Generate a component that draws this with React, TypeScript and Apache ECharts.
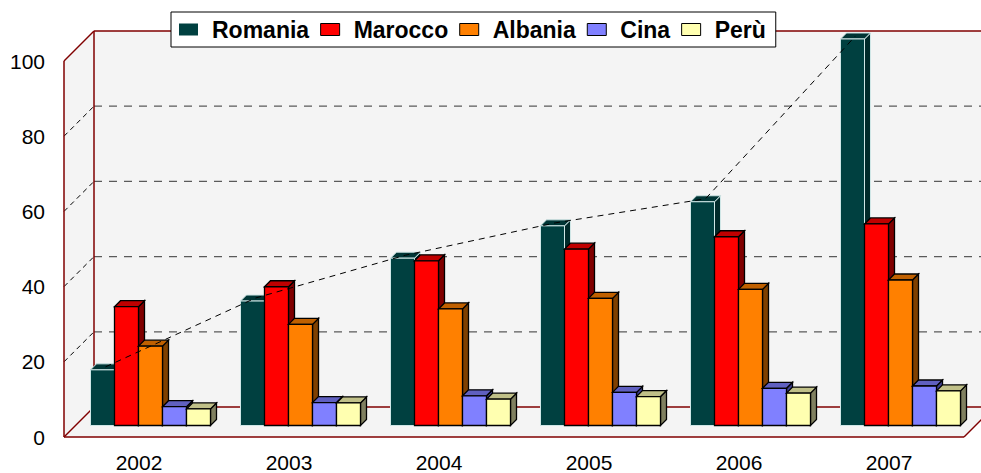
import React, { useEffect, useRef } from "react";
import * as echarts from "echarts";

const years = ["2002", "2003", "2004", "2005", "2006", "2007"];
const romania = [14.8, 33.1, 44.5, 53.1, 59.5, 102.8];
const marocco = [31.6, 36.9, 43.8, 46.9, 50.2, 53.6];
const albania = [21.1, 26.9, 31.0, 33.8, 36.2, 38.7];
const cina = [5.0, 6.1, 7.9, 8.8, 9.9, 10.5];
const peru = [4.4, 6.0, 7.0, 7.7, 8.6, 9.2];
const gridValues = [20, 40, 60, 80];

const seriesNames = ["Romania", "Marocco", "Albania", "Cina", "Perù"];
const seriesData = [romania, marocco, albania, cina, peru];
const frontColors = ["#004040", "#ff0000", "#ff8000", "#8080ff", "#ffffb0"];
const topColors = ["#003535", "#c00000", "#c06000", "#6060c0", "#c0c088"];
const sideColors = ["#002a2a", "#800000", "#804000", "#404090", "#808060"];
const strokeColors = ["#cfe6e6", "#000", "#000", "#000", "#000"];

const FONT = "'Liberation Sans', Arial, sans-serif";
const WALL_D = 30; // wall depth offset
const BAR_DX = 11.5; // bar plane offset
const BAR_D = 6; // bar own depth
const WALL_RED = "#800000";

function barGeom(api: any, k: number, idx: number, val: number) {
  const base = api.coord([idx, 0]);
  const top = api.coord([idx, val]);
  const band = api.size([1, 0])[0];
  const bw = band * 0.16;
  const x0 = base[0] + BAR_DX + (k - 2.5) * bw;
  const x1 = x0 + bw;
  const yB = base[1] - BAR_DX;
  const yT = top[1] - BAR_DX;
  return { x0, x1, yB, yT, bw };
}

export default function App() {
  const ref = useRef<HTMLDivElement>(null);
  useEffect(() => {
    if (!ref.current) return;
    const chart = echarts.init(ref.current, null, { renderer: "svg" });

    const wallSeries = {
      type: "custom",
      name: "walls",
      silent: true,
      z: 1,
      data: [[0, 0]],
      renderItem: (params: any, api: any) => {
        const cs = params.coordSys;
        const x0 = cs.x;
        const x1 = cs.x + cs.width;
        const yT = cs.y;
        const yB = cs.y + cs.height;
        const D = WALL_D;
        const fill = "#f4f4f4";
        const children: any[] = [];
        children.push({
          type: "polygon",
          shape: { points: [[x0 + D, yT - D], [x1 + D, yT - D], [x1 + D, yB - D], [x0 + D, yB - D]] },
          style: { fill },
        });
        children.push({
          type: "polygon",
          shape: { points: [[x0, yT], [x0 + D, yT - D], [x0 + D, yB - D], [x0, yB]] },
          style: { fill },
        });
        children.push({
          type: "polygon",
          shape: { points: [[x0, yB], [x0 + D, yB - D], [x1 + D, yB - D], [x1, yB]] },
          style: { fill },
        });
        gridValues.forEach((v) => {
          const y = api.coord([0, v])[1];
          children.push({
            type: "line",
            shape: { x1: x0 + D, y1: y - D, x2: x1 + D, y2: y - D },
            style: { stroke: "#5a5a5a", lineWidth: 1.2, lineDash: [8, 7] },
          });
          children.push({
            type: "line",
            shape: { x1: x0, y1: y, x2: x0 + D, y2: y - D },
            style: { stroke: "#000", lineWidth: 1, lineDash: [5, 4] },
          });
        });
        const redLines = [
          [x0, yT, x0, yB],
          [x0, yT, x0 + D, yT - D],
          [x0 + D, yT - D, x1 + D, yT - D],
          [x0 + D, yT - D, x0 + D, yB - D],
          [x0, yB, x0 + D, yB - D],
          [x0 + D, yB - D, x1 + D, yB - D],
          [x0, yB, x1, yB],
          [x1, yB, x1 + D, yB - D],
        ];
        redLines.forEach((l) => {
          children.push({
            type: "line",
            shape: { x1: l[0], y1: l[1], x2: l[2], y2: l[3] },
            style: { stroke: WALL_RED, lineWidth: 1.5 },
          });
        });
        return { type: "group", children };
      },
    };

    const barSeries = seriesNames.map((name, k) => ({
      type: "custom",
      name,
      z: 2,
      itemStyle: { color: frontColors[k] },
      data: seriesData[k].map((v, i) => [i, v]),
      encode: { x: 0, y: 1 },
      renderItem: (params: any, api: any) => {
        const idx = api.value(0);
        const val = api.value(1);
        const g = barGeom(api, k, idx, val);
        const d = BAR_D;
        const stroke = strokeColors[k];
        const lw = k === 0 ? 1 : 1.3;
        return {
          type: "group",
          children: [
            {
              type: "polygon",
              shape: { points: [[g.x1, g.yT], [g.x1 + d, g.yT - d], [g.x1 + d, g.yB - d], [g.x1, g.yB]] },
              style: { fill: sideColors[k], stroke, lineWidth: lw },
            },
            {
              type: "polygon",
              shape: { points: [[g.x0, g.yT], [g.x0 + d, g.yT - d], [g.x1 + d, g.yT - d], [g.x1, g.yT]] },
              style: { fill: topColors[k], stroke, lineWidth: lw },
            },
            {
              type: "rect",
              shape: { x: g.x0, y: g.yT, width: g.x1 - g.x0, height: g.yB - g.yT },
              style: { fill: frontColors[k], stroke, lineWidth: lw },
            },
          ],
        };
      },
    }));

    const trendSeries = {
      type: "custom",
      name: "trend",
      silent: true,
      z: 5,
      data: [[0, romania[0]]],
      encode: { x: 0, y: 1 },
      renderItem: (params: any, api: any) => {
        const pts = romania.map((v, i) => {
          const g = barGeom(api, 0, i, v);
          return [g.x0 + g.bw / 2 + BAR_D / 2, g.yT - BAR_D / 2];
        });
        return {
          type: "polyline",
          shape: { points: pts },
          style: { stroke: "#000", lineWidth: 1, lineDash: [6, 5], fill: "none" },
        };
      },
    };

    chart.setOption({
      animation: false,
      grid: { left: 64, right: 17, top: 61, bottom: 36, containLabel: false },
      legend: {
        left: 171,
        top: 12,
        orient: "horizontal",
        padding: [6, 10, 6, 8],
        itemWidth: 19,
        itemHeight: 12,
        itemGap: 11,
        backgroundColor: "#fff",
        borderColor: "#000",
        borderWidth: 1,
        borderRadius: 0,
        icon: "rect",
        itemStyle: { borderColor: "#000", borderWidth: 1 },
        textStyle: {
          fontFamily: FONT,
          fontSize: 23,
          fontWeight: "bold",
          color: "#000",
          lineHeight: 23,
          padding: [0, 0, 0, 9],
        },
        data: seriesNames.map((n, k) =>
          k === 0 ? { name: n, itemStyle: { borderWidth: 0 } } : { name: n }
        ),
      },
      xAxis: {
        type: "category",
        data: years,
        axisLine: { show: false },
        axisTick: { show: false },
        splitLine: { show: false },
        axisLabel: { fontFamily: FONT, fontSize: 21, color: "#000", margin: 15 },
      },
      yAxis: {
        type: "value",
        min: 0,
        max: 100,
        interval: 20,
        axisLine: { show: false },
        axisTick: { show: false },
        splitLine: { show: false },
        axisLabel: { fontFamily: FONT, fontSize: 21, color: "#000", margin: 19 },
      },
      series: [wallSeries, ...barSeries, trendSeries],
    });
    return () => chart.dispose();
  }, []);
  return (
    <div
      ref={ref}
      style={{ position: "fixed", left: 0, top: 0, width: 981, height: 473, background: "#fff" }}
    />
  );
}
